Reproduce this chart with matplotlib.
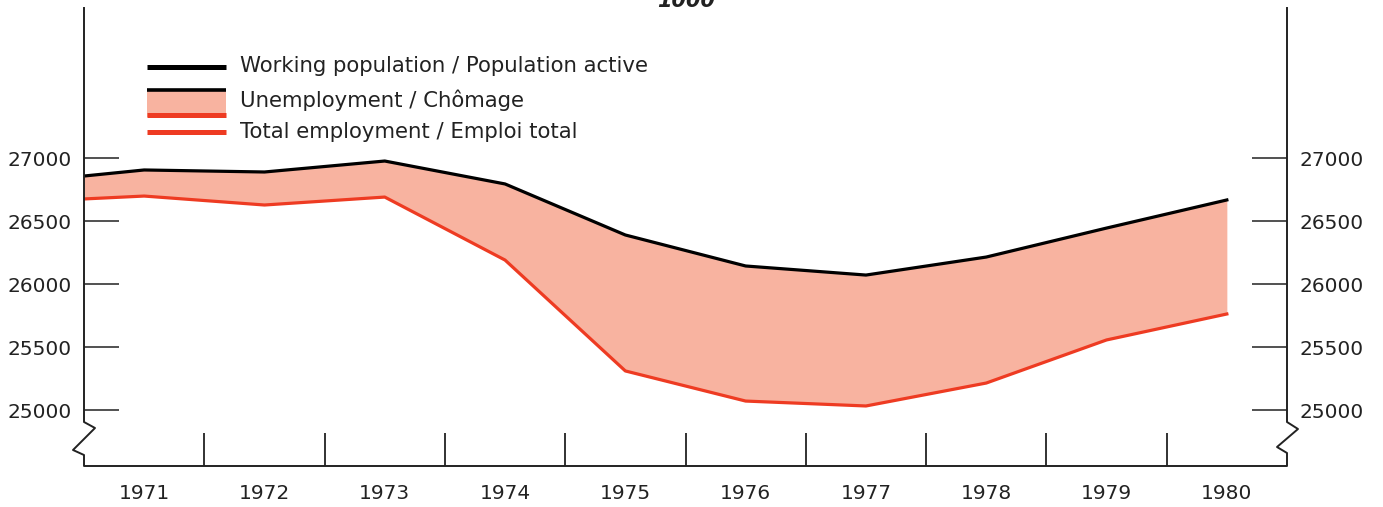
import matplotlib.pyplot as plt
from matplotlib.lines import Line2D
from matplotlib.patches import Rectangle

# values in thousands; first point sits on the left edge of the axis
years = [1970.5, 1971, 1972, 1973, 1974, 1975, 1976, 1977, 1978, 1979, 1980]
working_pop = [26857, 26905, 26889, 26976, 26794, 26389, 26143, 26071, 26214, 26444, 26667]
employment = [26675, 26698, 26627, 26690, 26190, 25310, 25071, 25032, 25214, 25556, 25762]
year_labels = ['1971', '1972', '1973', '1974', '1975', '1976', '1977', '1978', '1979', '1980']
y_ticks = [25000, 25500, 26000, 26500, 27000]

W, H = 1383, 507
plt.rcParams['font.family'] = ['DejaVu Sans']
txt = '#222222'
fill_col = '#F8B3A0'
red = '#EE3B22'

fig = plt.figure(figsize=(W / 100, H / 100), dpi=100)
fig.patch.set_facecolor('white')
ax = fig.add_axes([84 / W, 41 / H, 1203 / W, 458 / H])
ax.set_facecolor('white')

ax.fill_between(years, employment, working_pop, color=fill_col, lw=0)
ax.plot(years, working_pop, color='black', lw=2.3, solid_joinstyle='round')
ax.plot(years, employment, color=red, lw=2.3, solid_joinstyle='round')

ax.set_xlim(1970.5, 1980.5)
ax.set_ylim(24555.6, 28190.5)

for s in ax.spines.values():
    s.set_visible(False)

ax.set_yticks(y_ticks)
ax.set_yticklabels([str(v) for v in y_ticks])
ax.tick_params(axis='y', direction='in', length=25, width=1.1, color='#222222',
               left=True, right=True, labelleft=True, labelright=True,
               labelsize=14.5, labelcolor=txt, pad=9)

ax.set_xticks(years[1:])
ax.set_xticklabels(year_labels)
ax.set_xticks([y + 0.5 for y in years[1:-1]], minor=True)
ax.tick_params(axis='x', which='major', length=0, labelsize=14.5, labelcolor=txt, pad=13)
ax.tick_params(axis='x', which='minor', direction='in', length=24, width=1.3, color='#222222')

# frame with broken-axis zigzags
fx = [84, 84, 95, 73, 84, 84, 1287, 1287, 1277, 1298, 1287, 1287]
fy = [8, 422, 428, 450, 455, 466, 466, 453, 447, 429, 422, 8]
fig.add_artist(Line2D([x / W for x in fx], [1 - y / H for y in fy],
                      transform=fig.transFigure, color='#222222', lw=1.4))


def fx_(x):
    return x / W


def fy_(y):
    return 1 - y / H


# legend drawn by hand
fig.add_artist(Line2D([fx_(147), fx_(226)], [fy_(67), fy_(67)], transform=fig.transFigure,
                      color='black', lw=3.6, solid_capstyle='butt'))
fig.add_artist(Rectangle((fx_(147), fy_(117)), 79 / W, 28 / H, transform=fig.transFigure,
                         facecolor=fill_col, lw=0))
fig.add_artist(Line2D([fx_(147), fx_(226)], [fy_(90), fy_(90)], transform=fig.transFigure,
                      color='black', lw=2.6, solid_capstyle='butt'))
fig.add_artist(Line2D([fx_(147), fx_(226)], [fy_(115), fy_(115)], transform=fig.transFigure,
                      color=red, lw=3.6, solid_capstyle='butt'))
fig.add_artist(Line2D([fx_(147), fx_(226)], [fy_(132), fy_(132)], transform=fig.transFigure,
                      color=red, lw=3.6, solid_capstyle='butt'))
legend_texts = ['Working population / Population active', 'Unemployment / Chômage',
                'Total employment / Emploi total']
for t, yy in zip(legend_texts, [66, 100, 132]):
    fig.text(fx_(240), fy_(yy), t, fontsize=15.3, color=txt, va='center', ha='left')

# unit label, cut off at the top as in the original
fig.text(fx_(686), fy_(7), '1000', fontsize=15, color=txt, style='italic',
         fontweight='bold', ha='center', va='baseline')

fig.savefig('out.png', dpi=100, facecolor='white')
